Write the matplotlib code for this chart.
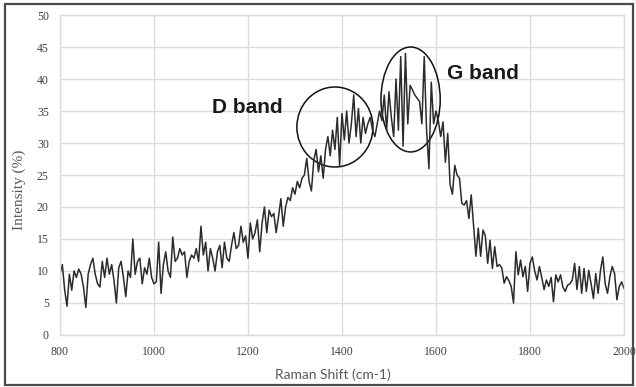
import numpy as np
import matplotlib.pyplot as plt
from matplotlib.patches import Ellipse, Rectangle

# Raman shift axis (cm-1), sampled every 5 cm-1
shift_start, shift_stop, shift_step = 800, 2000, 5

intensity = [
    9.5, 11.0, 7.0, 4.5, 9.5, 7.0, 10.0, 9.0, 10.3, 9.5,          # 800-845
    7.5, 4.3, 9.5, 11.0, 12.0, 9.5, 8.0, 7.5, 11.5, 9.0,          # 850-895
    12.0, 9.5, 11.0, 8.5, 5.0, 10.5, 11.5, 9.0, 6.0, 10.0,        # 900-945
    9.0, 15.0, 9.5, 11.5, 12.0, 8.0, 10.5, 9.5, 12.0, 9.0,        # 950-995
    8.0, 8.3, 14.5, 6.5, 11.0, 13.0, 10.0, 9.0, 15.3, 11.5,       # 1000-1045
    12.0, 13.5, 12.5, 13.0, 9.0, 11.5, 12.5, 12.0, 13.5, 11.5,    # 1050-1095
    17.0, 12.5, 14.5, 10.0, 13.5, 12.0, 10.0, 13.0, 14.0, 10.5,   # 1100-1145
    14.5, 12.0, 11.5, 14.0, 16.0, 13.5, 14.0, 17.0, 14.5, 15.5,   # 1150-1195
    12.0, 17.5, 15.0, 16.0, 18.0, 13.0, 17.5, 20.0, 16.0, 19.5,   # 1200-1245
    18.5, 19.0, 16.0, 18.5, 21.3, 17.0, 20.0, 21.5, 21.0, 23.0,   # 1250-1295
    22.0, 24.0, 23.0, 24.5, 25.0, 27.6, 24.0, 22.5, 27.3, 29.0,   # 1300-1345
    25.5, 28.0, 24.5, 29.0, 31.0, 28.0, 32.0, 29.0, 34.0, 26.5,   # 1350-1395
    34.6, 30.5, 35.0, 30.0, 33.0, 37.5, 31.0, 35.4, 30.0, 34.0,   # 1400-1445
    31.5, 33.0, 34.0, 32.0, 31.0, 33.0, 35.0, 33.5, 37.5, 32.0,   # 1450-1495
    38.0, 34.0, 31.0, 40.0, 32.0, 43.5, 29.5, 44.0, 33.0, 39.0,   # 1500-1545
    38.3, 37.5, 37.0, 36.5, 33.0, 43.5, 32.0, 26.0, 39.5, 33.0,   # 1550-1595
    35.0, 33.5, 31.0, 33.3, 27.0, 31.5, 23.5, 22.0, 26.5, 25.0,   # 1600-1645
    24.5, 20.6, 20.3, 21.0, 18.2, 21.9, 17.0, 12.3, 16.7, 12.3,   # 1650-1695
    16.4, 15.5, 11.2, 14.8, 10.4, 13.8, 10.7, 11.0, 10.5, 8.1,    # 1700-1745
    9.1, 8.5, 7.6, 5.0, 13.0, 9.4, 11.7, 9.1, 10.7, 6.8,          # 1750-1795
    11.2, 12.2, 10.0, 8.6, 10.7, 9.0, 7.1, 8.6, 7.6, 9.0,         # 1800-1845
    5.2, 9.4, 8.3, 9.4, 7.5, 6.8, 7.8, 8.0, 8.6, 11.2,            # 1850-1895
    7.1, 10.7, 6.5, 10.4, 6.8, 10.1, 8.0, 5.7, 9.6, 6.5,          # 1900-1945
    10.1, 12.2, 8.0, 6.5, 9.1, 10.7, 9.6, 5.5, 7.6, 8.3,          # 1950-1995
    7.3,                                                          # 2000
]
raman_shift = np.arange(shift_start, shift_stop + 1, shift_step)

x_ticks = [800, 1000, 1200, 1400, 1600, 1800, 2000]
y_ticks = [0, 5, 10, 15, 20, 25, 30, 35, 40, 45, 50]

# band annotations: label, ellipse centre (cm-1, %), width, height, label position
band_labels = ["D band", "G band"]
band_centres = [(1385, 32.5), (1546, 36.8)]
band_sizes = [(162, 12.5), (126, 16.4)]
label_positions = [(1198, 35.5), (1700, 40.9)]

fig = plt.figure(figsize=(6.36, 3.87), dpi=100)
ax = fig.add_axes([0.0943, 0.1344, 0.8868, 0.8268])

ax.plot(raman_shift, intensity, color="#2b2b2b", linewidth=1.1)

for label, centre, size, pos in zip(band_labels, band_centres, band_sizes, label_positions):
    ax.add_patch(Ellipse(centre, size[0], size[1], fill=False,
                         edgecolor="#111111", linewidth=1.1))
    ax.text(pos[0], pos[1], label, ha="center", va="center",
            fontsize=15, fontweight="bold",
            family="Liberation Sans", color="#1a1a1a")

ax.set_xlim(800, 2000)
ax.set_ylim(0, 50)
ax.set_xticks(x_ticks)
ax.set_yticks(y_ticks)
ax.grid(True, color="#dcdcdc", linewidth=1.0)
ax.set_axisbelow(True)
for side in ax.spines.values():
    side.set_color("#dcdcdc")
    side.set_linewidth(1.0)
ax.tick_params(length=0, pad=8, labelsize=8.5, labelcolor="#404040")
for lab in ax.get_xticklabels() + ax.get_yticklabels():
    lab.set_family("Liberation Serif")

fig.text(333 / 636, 1 - 375 / 387, "Raman Shift (cm-1)", ha="center", va="center",
         fontsize=10, family="Lato", color="#595959")
fig.text(19 / 636, 1 - 190 / 387, "Intensity (%)", ha="center", va="center",
         rotation=90, fontsize=11, family="Liberation Serif", color="#595959")

fig.patches.append(Rectangle((5 / 636, 2 / 387), 628 / 636, 381 / 387,
                             transform=fig.transFigure, fill=False,
                             edgecolor="#4a4a4a", linewidth=1.6))

fig.savefig("out.png", dpi=100)
